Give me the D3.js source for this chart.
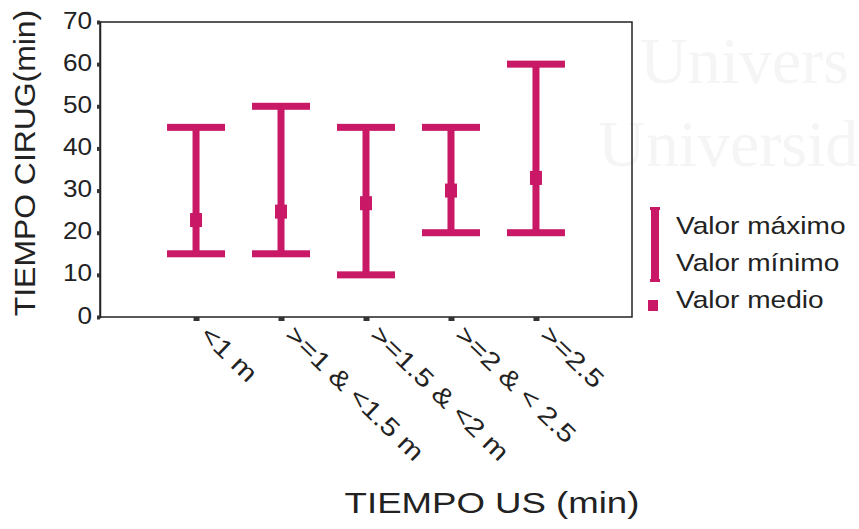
<!DOCTYPE html>
<html>
<head>
<meta charset="utf-8">
<script src="https://cdn.jsdelivr.net/npm/d3@7"></script>
<style>
  html, body { margin: 0; padding: 0; background: #fff; }
  svg { display: block; }
  text { font-family: "Liberation Sans", Arial, Helvetica, sans-serif; fill: #222; }
</style>
</head>
<body>
<svg id="chart" width="859" height="529"></svg>
<script>
// Surgery time (min) per ultrasound-time group: max, min and mean
const categories = ["<1 m", ">=1 & <1.5 m", ">=1.5 & <2 m", ">=2 & < 2.5", ">=2.5"];
const maxValues  = [45, 50, 45, 45, 60];
const minValues  = [15, 15, 10, 20, 20];
const meanValues = [23, 25, 27, 30, 33];
const yTicks     = [0, 10, 20, 30, 40, 50, 60, 70];
const legendLabels = ["Valor máximo", "Valor mínimo", "Valor medio"];

const color = "#c81866";
const svg = d3.select("#chart");

const plot = { left: 100, right: 632, top: 22, bottom: 317 };

const x = d3.scalePoint()
  .domain(categories)
  .range([plot.left, plot.right])
  .padding(1.13);

const y = d3.scaleLinear()
  .domain([0, 70])
  .range([plot.bottom, plot.top]);

// horizontally stretched text helper
function stretch(sel, sx) {
  sel.each(function () {
    const t = d3.select(this);
    const tx = +t.attr("data-x"), ty = +t.attr("data-y");
    t.attr("transform", `translate(${tx},${ty}) scale(${sx},1)`);
  });
}

// faint background lettering
const wm = svg.append("g");
wm.append("text").attr("x", 640).attr("y", 83).attr("font-size", 66)
  .style("font-family", "Liberation Serif, DejaVu Serif, serif").style("fill", "#f5f5f5").text("Univers");
wm.append("text").attr("x", 598).attr("y", 166).attr("font-size", 66)
  .style("font-family", "Liberation Serif, DejaVu Serif, serif").style("fill", "#f5f5f5").text("Universid");

// frame
svg.append("rect")
  .attr("x", plot.left).attr("y", plot.top)
  .attr("width", plot.right - plot.left).attr("height", plot.bottom - plot.top)
  .attr("fill", "none").attr("stroke", "#222").attr("stroke-width", 1.5);

// y axis
const yAxis = d3.axisLeft(y).tickValues(yTicks).tickSize(3).tickPadding(5);
const gy = svg.append("g").attr("transform", `translate(${plot.left},0)`).call(yAxis);
gy.select(".domain").attr("stroke", "#222").attr("stroke-width", 1.5);
gy.selectAll(".tick line").attr("stroke", "#333").attr("stroke-width", 4);
gy.selectAll(".tick text")
  .attr("font-size", 24).attr("dy", "0.25em")
  .style("fill", "#222")
  .attr("transform", "scale(1.09,1)")
  .attr("x", -8 / 1.09);

// x axis
const xAxis = d3.axisBottom(x).tickSize(4).tickFormat("");
const gx = svg.append("g").attr("transform", `translate(0,${plot.bottom})`).call(xAxis);
gx.select(".domain").remove();
gx.selectAll(".tick line").attr("stroke", "#333").attr("stroke-width", 6);

// rotated category labels
svg.append("g").selectAll("text")
  .data(categories)
  .join("text")
  .attr("font-size", 25)
  .attr("text-anchor", "start")
  .attr("transform", d => `translate(${x(d) + 15},${plot.bottom + 7}) rotate(44) scale(1.2,1)`)
  .attr("dy", "0.7em")
  .text(d => d);

// range bars
const data = categories.map((c, i) => ({ c, max: maxValues[i], min: minValues[i], mean: meanValues[i] }));
const capW = 58, capH = 7, lineW = 7, meanW = 12, meanH = 14;

const bars = svg.append("g").selectAll("g").data(data).join("g");
bars.append("rect")
  .attr("x", d => x(d.c) - lineW / 2)
  .attr("y", d => y(d.max))
  .attr("width", lineW)
  .attr("height", d => y(d.min) - y(d.max))
  .attr("fill", color);
bars.append("rect")
  .attr("x", d => x(d.c) - capW / 2)
  .attr("y", d => y(d.max) - capH / 2)
  .attr("width", capW).attr("height", capH)
  .attr("fill", color);
bars.append("rect")
  .attr("x", d => x(d.c) - capW / 2)
  .attr("y", d => y(d.min) - capH / 2)
  .attr("width", capW).attr("height", capH)
  .attr("fill", color);
bars.append("rect")
  .attr("x", d => x(d.c) - meanW / 2)
  .attr("y", d => y(d.mean) - meanH / 2)
  .attr("width", meanW).attr("height", meanH)
  .attr("fill", color);

// legend
const lg = svg.append("g");
lg.append("rect").attr("x", 651).attr("y", 207).attr("width", 8).attr("height", 75).attr("fill", color);
lg.append("rect").attr("x", 650).attr("y", 207).attr("width", 10).attr("height", 3).attr("fill", color);
lg.append("rect").attr("x", 650).attr("y", 279).attr("width", 10).attr("height", 3).attr("fill", color);
lg.append("rect").attr("x", 648).attr("y", 300).attr("width", 10).attr("height", 11).attr("fill", color);
const legendY = [234, 271, 308];
lg.selectAll("text.leg")
  .data(legendLabels)
  .join("text")
  .attr("class", "leg")
  .attr("font-size", 24)
  .attr("data-x", 676)
  .attr("data-y", (d, i) => legendY[i])
  .text(d => d)
  .call(stretch, 1.17);

// axis titles
svg.append("text")
  .attr("font-size", 30)
  .attr("text-anchor", "middle")
  .attr("data-x", 492).attr("data-y", 513)
  .text("TIEMPO US (min)")
  .call(stretch, 1.22);

svg.append("text")
  .attr("font-size", 29)
  .attr("text-anchor", "middle")
  .attr("transform", "translate(35,163) rotate(-90) scale(1.1,1)")
  .text("TIEMPO CIRUG(min)");
</script>
</body>
</html>
